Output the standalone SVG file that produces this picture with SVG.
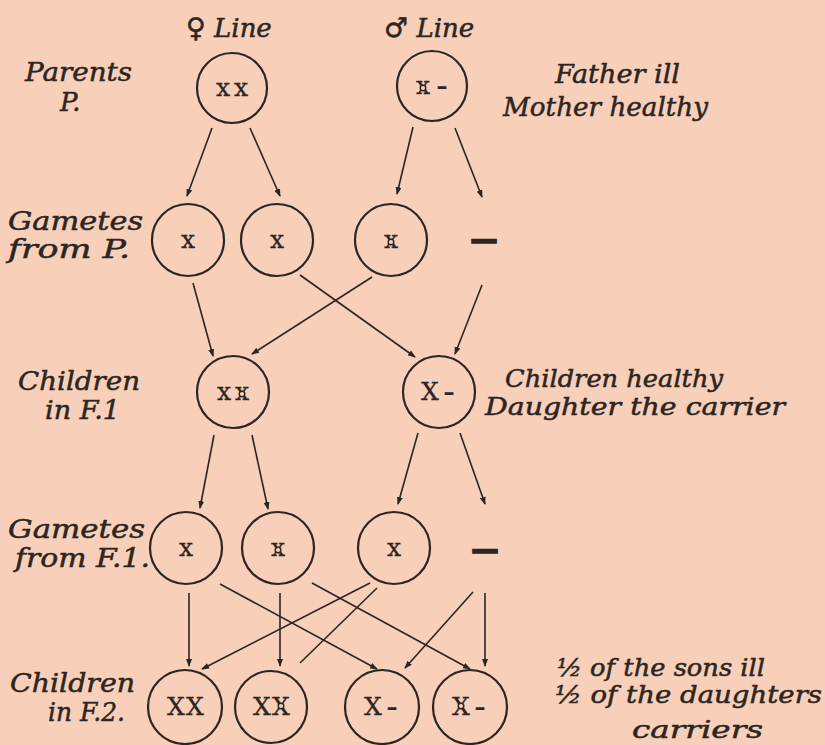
<svg xmlns="http://www.w3.org/2000/svg" width="825" height="745" viewBox="0 0 825 745">
<style>
.bg{fill:#f8cfb8}
.node circle.c{fill:none;stroke:#2b2622;stroke-width:2.2}
.g{font-family:"DejaVu Serif","Liberation Serif",serif;font-size:25px;fill:#2b2622;text-anchor:middle;stroke:#2b2622;stroke-width:0.3}
.d{font-family:"DejaVu Sans","Liberation Sans",sans-serif;font-weight:bold;fill:#2b2622;text-anchor:middle}
.m{fill:#f8cfb8;stroke:#2b2622;stroke-width:1.4}
.lab{font-family:"DejaVu Serif","Liberation Serif",serif;font-style:italic;font-size:26px;fill:#2b2622;stroke:#2b2622;stroke-width:0.5}
.sm{font-size:24px}
.sym{font-family:"DejaVu Sans",sans-serif;font-style:normal;font-size:27px}
#connectors line{stroke:#2b2622;stroke-width:1.6}
.a{marker-end:url(#ah)}
</style>
<defs>
<marker id="ah" markerUnits="userSpaceOnUse" viewBox="0 0 8 6" refX="7" refY="3" markerWidth="8" markerHeight="6" orient="auto">
<path d="M0,0 L8,3 L0,6 z" fill="#2b2622"/>
</marker>
</defs>
<rect class="bg" x="0" y="0" width="825" height="745"/>

<g id="labels">
<text class="lab" x="186" y="37"><tspan class="sym">♀</tspan> Line</text>
<text class="lab" x="384" y="37"><tspan class="sym">♂</tspan> Line</text>
<text class="lab" x="25" y="81" textLength="107" lengthAdjust="spacingAndGlyphs">Parents</text>
<text class="lab" x="60" y="111">P.</text>
<text class="lab" x="555" y="83" textLength="125" lengthAdjust="spacingAndGlyphs">Father ill</text>
<text class="lab" x="503" y="116" textLength="205" lengthAdjust="spacingAndGlyphs">Mother healthy</text>
<text class="lab" x="8" y="230" textLength="135" lengthAdjust="spacingAndGlyphs">Gametes</text>
<text class="lab" x="8" y="258" textLength="122" lengthAdjust="spacingAndGlyphs">from P.</text>
<text class="lab" x="18" y="390" textLength="122" lengthAdjust="spacingAndGlyphs">Children</text>
<text class="lab" x="45" y="419" textLength="75" lengthAdjust="spacingAndGlyphs">in F.1</text>
<text class="lab sm" x="505" y="387" textLength="218" lengthAdjust="spacingAndGlyphs">Children healthy</text>
<text class="lab sm" x="485" y="415" textLength="300" lengthAdjust="spacingAndGlyphs">Daughter the carrier</text>
<text class="lab" x="8" y="538" textLength="137" lengthAdjust="spacingAndGlyphs">Gametes</text>
<text class="lab" x="15" y="567" textLength="135" lengthAdjust="spacingAndGlyphs">from F.1.</text>
<text class="lab" x="10" y="692" textLength="125" lengthAdjust="spacingAndGlyphs">Children</text>
<text class="lab" x="48" y="721" textLength="77" lengthAdjust="spacingAndGlyphs">in F.2.</text>
<text class="lab sm" x="557" y="676" textLength="208" lengthAdjust="spacingAndGlyphs">½ of the sons ill</text>
<text class="lab sm" x="555" y="703" textLength="267" lengthAdjust="spacingAndGlyphs">½ of the daughters</text>
<text class="lab sm" x="632" y="738" textLength="131" lengthAdjust="spacingAndGlyphs">carriers</text>
</g>

<g id="connectors">
<line class="a" x1="212" y1="128" x2="187" y2="196"/>
<line class="a" x1="250" y1="128" x2="280" y2="196"/>
<line class="a" x1="413" y1="127" x2="397" y2="194"/>
<line class="a" x1="455" y1="128" x2="482" y2="197"/>
<line class="a" x1="193" y1="283" x2="213" y2="356"/>
<line class="a" x1="300" y1="275" x2="415" y2="357"/>
<line class="a" x1="372" y1="277" x2="252" y2="354"/>
<line class="a" x1="482" y1="285" x2="455" y2="354"/>
<line class="a" x1="214" y1="435" x2="200" y2="508"/>
<line class="a" x1="252" y1="435" x2="268" y2="509"/>
<line class="a" x1="418" y1="433" x2="398" y2="504"/>
<line class="a" x1="460" y1="433" x2="485" y2="504"/>
<line class="a" x1="189" y1="593" x2="189" y2="666"/>
<line class="a" x1="220" y1="584" x2="377" y2="669"/>
<line class="a" x1="280" y1="593" x2="280" y2="666"/>
<line class="a" x1="312" y1="583" x2="470" y2="669"/>
<line class="a" x1="370" y1="583" x2="202" y2="669"/>
<line x1="377" y1="588" x2="300" y2="663"/>
<line class="a" x1="473" y1="592" x2="405" y2="668"/>
<line class="a" x1="485" y1="593" x2="485" y2="666"/>
</g>

<g id="p-mother" class="node">
<circle class="c" cx="232" cy="88" r="35"/>
<text class="g" x="223" y="96">x</text><text class="g" x="241" y="96">x</text>
</g>
<g id="p-father" class="node">
<circle class="c" cx="432" cy="86" r="35"/>
<text class="g" x="423" y="94">x</text><circle class="m" cx="423" cy="88" r="2.8"/>
<text class="d" x="442" y="94" font-size="22">–</text>
</g>

<g id="gp1" class="node">
<circle class="c" cx="188" cy="240" r="36"/>
<text class="g" x="188" y="248">x</text>
</g>
<g id="gp2" class="node">
<circle class="c" cx="277" cy="240" r="36"/>
<text class="g" x="277" y="248">x</text>
</g>
<g id="gp3" class="node">
<circle class="c" cx="391" cy="240" r="36"/>
<text class="g" x="391" y="248">x</text><circle class="m" cx="391" cy="242" r="2.8"/>
</g>
<g id="gp4" class="node">
<text class="d" x="484" y="249" font-size="27" stroke="#2b2622" stroke-width="1.6">—</text>
</g>

<g id="f1-daughter" class="node">
<circle class="c" cx="233" cy="392" r="36"/>
<text class="g" x="224" y="400">x</text><text class="g" x="242" y="400">x</text><circle class="m" cx="242" cy="394" r="2.8"/>
</g>
<g id="f1-son" class="node">
<circle class="c" cx="439" cy="392" r="36"/>
<text class="g" x="430" y="400">X</text>
<text class="d" x="449" y="400" font-size="22">–</text>
</g>

<g id="gf1" class="node">
<circle class="c" cx="186" cy="548" r="36"/>
<text class="g" x="186" y="556">x</text>
</g>
<g id="gf2" class="node">
<circle class="c" cx="278" cy="548" r="36"/>
<text class="g" x="278" y="556">x</text><circle class="m" cx="278" cy="550" r="2.8"/>
</g>
<g id="gf3" class="node">
<circle class="c" cx="394" cy="548" r="36"/>
<text class="g" x="394" y="556">x</text>
</g>
<g id="gf4" class="node">
<text class="d" x="485" y="559" font-size="27" stroke="#2b2622" stroke-width="1.6">—</text>
</g>

<g id="f2-1" class="node">
<circle class="c" cx="185" cy="707" r="37"/>
<text class="g" x="176" y="715">X</text><text class="g" x="195" y="715">X</text>
</g>
<g id="f2-2" class="node">
<circle class="c" cx="271" cy="707" r="36"/>
<text class="g" x="262" y="715">X</text><text class="g" x="281" y="715">X</text><circle class="m" cx="281" cy="706" r="2.8"/>
</g>
<g id="f2-3" class="node">
<circle class="c" cx="382" cy="707" r="37"/>
<text class="g" x="373" y="715">X</text>
<text class="d" x="392" y="715" font-size="22">–</text>
</g>
<g id="f2-4" class="node">
<circle class="c" cx="470" cy="707" r="37"/>
<text class="g" x="461" y="715">X</text><circle class="m" cx="461" cy="706" r="2.8"/>
<text class="d" x="480" y="715" font-size="22">–</text>
</g>
</svg>
